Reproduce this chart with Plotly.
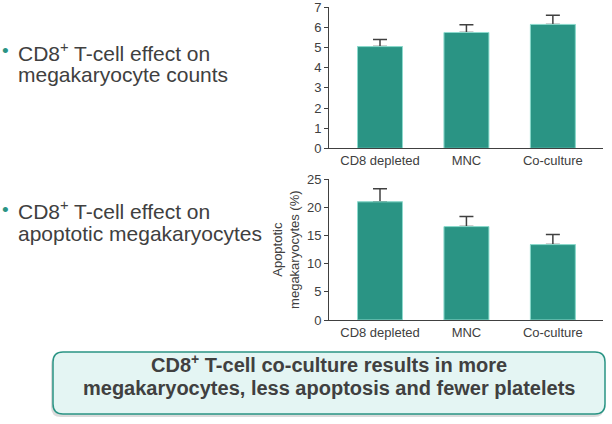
import plotly.graph_objects as go

# data
groups = ["CD8 depleted", "MNC", "Co-culture"]
mk_counts = [5.05, 5.75, 6.15]
mk_counts_err = [0.35, 0.38, 0.45]
apoptotic_pct = [21.0, 16.6, 13.4]
apoptotic_pct_err = [2.3, 1.8, 1.8]

TEAL = "#2a9484"
EDGE = "#8fdccf"
GREY = "#404040"
FONT = "Liberation Sans, Arial, sans-serif"

W, H = 612, 424


def px(x):
    return x / W


def py(y):
    return 1 - y / H


def bar_traces(vals, errs, xa, ya):
    # error bar drawn on a bar underneath, so its lower cap is hidden by the top bar
    under = go.Bar(
        x=groups, y=vals, xaxis=xa, yaxis=ya, width=0.52,
        marker=dict(color=TEAL, line=dict(width=0)),
        error_y=dict(type="data", array=errs, arrayminus=[0] * len(errs),
                     symmetric=False, color=GREY, thickness=1.5, width=7),
        showlegend=False, hoverinfo="skip",
    )
    over = go.Bar(
        x=groups, y=vals, xaxis=xa, yaxis=ya, width=0.52,
        marker=dict(color=TEAL, line=dict(color=EDGE, width=1)),
        showlegend=False,
    )
    return [under, over]


fig = go.Figure()
for tr in bar_traces(mk_counts, mk_counts_err, "x", "y"):
    fig.add_trace(tr)
for tr in bar_traces(apoptotic_pct, apoptotic_pct_err, "x2", "y2"):
    fig.add_trace(tr)

axis_common = dict(showline=True, linecolor=GREY, linewidth=1, showgrid=False,
                   zeroline=False, automargin=False, ticklabeloverflow="allow",
                   tickfont=dict(size=13, color=GREY, family=FONT))
xr = [-0.59, 2.58]

fig.update_layout(
    width=W, height=H,
    margin=dict(l=0, r=0, t=0, b=0),
    barmode="overlay",
    paper_bgcolor="white", plot_bgcolor="white",
    font=dict(family=FONT, color=GREY),
    xaxis=dict(domain=[px(329), px(603)], range=xr, anchor="y", ticks="", **axis_common),
    yaxis=dict(domain=[py(148.3), py(7.3)], range=[0, 7], dtick=1, anchor="x",
               ticks="outside", ticklen=4, tickcolor=GREY, **axis_common),
    xaxis2=dict(domain=[px(329), px(603)], range=xr, anchor="y2", ticks="", **axis_common),
    yaxis2=dict(domain=[py(320), py(179.3)], range=[0, 25], dtick=5, anchor="x2",
                ticks="outside", ticklen=4, tickcolor=GREY,
                title=dict(text="Apoptotic<br>megakaryocytes (%)", standoff=4,
                           font=dict(size=13, color=GREY, family=FONT)),
                **axis_common),
)


def note(x, y, txt, size, anchor="left", bold=False, color=GREY):
    fig.add_annotation(x=px(x), y=py(y), xref="paper", yref="paper",
                       xanchor=anchor, yanchor="middle", showarrow=False,
                       text=f"<b>{txt}</b>" if bold else txt,
                       font=dict(size=size, color=color, family=FONT))


# left-hand bullet text, one line per annotation for tight leading
bullets = [
    (50, [(51.7, "CD8<sup>+</sup> T-cell effect on"), (74.4, "megakaryocyte counts")]),
    (209, [(209.5, "CD8<sup>+</sup> T-cell effect on"), (233, "apoptotic megakaryocytes")]),
]
for dot_y, lines in bullets:
    note(5.5, dot_y, "•", 19, anchor="center", color=TEAL)
    for yc, txt in lines:
        note(15.5, yc, txt, 21)


def rounded_rect(x0, y0, x1, y1, r):
    # pixel coords -> paper path
    return (f"M {px(x0 + r)},{py(y0)} L {px(x1 - r)},{py(y0)} "
            f"Q {px(x1)},{py(y0)} {px(x1)},{py(y0 + r)} "
            f"L {px(x1)},{py(y1 - r)} Q {px(x1)},{py(y1)} {px(x1 - r)},{py(y1)} "
            f"L {px(x0 + r)},{py(y1)} Q {px(x0)},{py(y1)} {px(x0)},{py(y1 - r)} "
            f"L {px(x0)},{py(y0 + r)} Q {px(x0)},{py(y0)} {px(x0 + r)},{py(y0)} Z")


# summary box with a soft shadow
fig.add_shape(type="path", xref="paper", yref="paper",
              path=rounded_rect(51, 355, 604, 417, 10),
              fillcolor="rgba(0,0,0,0.14)", line=dict(width=0), layer="below")
fig.add_shape(type="path", xref="paper", yref="paper",
              path=rounded_rect(53, 352, 605, 414, 10),
              fillcolor="#e4f5f3", line=dict(color=TEAL, width=1.5), layer="below")
note(329, 363.5, "CD8<sup>+</sup> T-cell co-culture results in more", 20, anchor="center", bold=True)
note(329, 388, "megakaryocytes, less apoptosis and fewer platelets", 20, anchor="center", bold=True)

fig.write_html("out.html", config={"displayModeBar": False},
               post_script="document.body.style.margin='0';")
